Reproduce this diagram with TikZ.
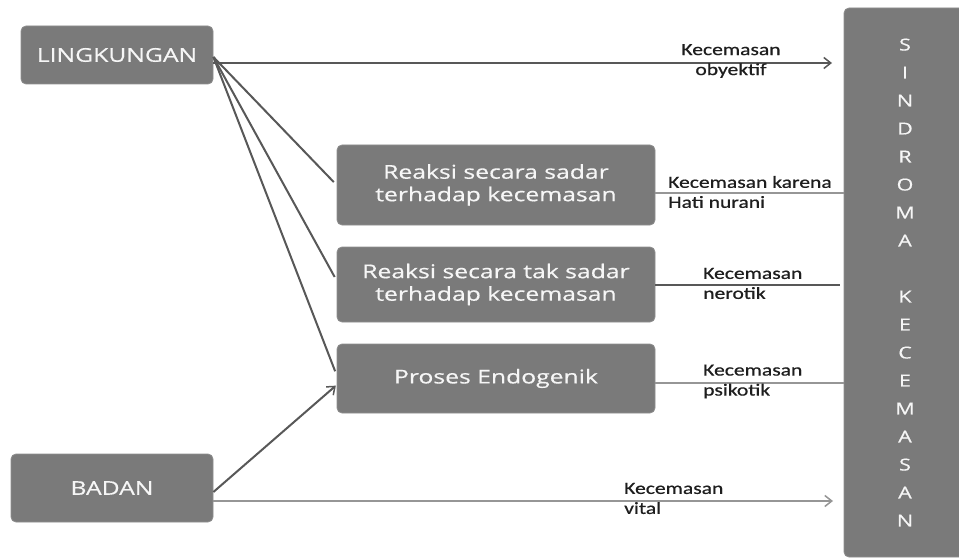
\documentclass[tikz,border=0pt]{standalone}
\usepackage{fontspec}
\usetikzlibrary{arrows.meta}
\newfontfamily\boxfont[FakeStretch=1.3,FakeBold=0.5]{Open Sans}
\newfontfamily\labfont[FakeStretch=1.27,FakeBold=0.6]{Carlito}
\definecolor{boxgray}{RGB}{122,122,122}
\definecolor{boxtext}{RGB}{246,246,246}
\definecolor{linedark}{RGB}{88,88,88}
\definecolor{linelite}{RGB}{150,150,150}
\definecolor{labtext}{RGB}{30,30,30}
\tikzset{
  gbox/.style={fill=boxgray, draw=boxgray!85!white, line width=0.8pt, rounded corners=5pt,
    text=boxtext, align=center, inner sep=0pt,
    font=\boxfont\fontsize{19}{22.5}\selectfont},
  lab/.style={text=labtext, inner sep=0pt, font=\labfont\fontsize{17}{20}\selectfont},
  dark/.style={draw=linedark, line width=2pt},
  lite/.style={draw=linelite, line width=1.5pt},
  tip/.style={-{Straight Barb[length=7pt,width=11pt,line width=1.5pt]}}
}
\begin{document}
\begin{tikzpicture}[x=1pt,y=-1pt]
\useasboundingbox (0,0) rectangle (959,559);
\clip (0,0) rectangle (959,559);
\fill[white] (0,0) rectangle (959,559);

\node[gbox, minimum width=192pt, minimum height=58pt] (ling) at (117,55) {LINGKUNGAN};
\node[gbox, minimum width=202pt, minimum height=68pt] (badan) at (112,488) {BADAN};
\node[gbox, minimum width=318pt, minimum height=80pt] (b1) at (496,185) {Reaksi secara sadar\\terhadap kecemasan};
\node[gbox, minimum width=318pt, minimum height=75pt] (b2) at (496,284.5) {Reaksi secara tak sadar\\terhadap kecemasan};
\node[gbox, minimum width=318pt, minimum height=69pt] (b3) at (496,378.5) {Proses Endogenik};
\node[gbox, minimum width=122pt, minimum height=549pt,
  font=\boxfont\fontsize{16.5}{28}\selectfont] (sind) at (905,282.5)
  {S\\I\\N\\D\\R\\O\\M\\A\\[28pt]K\\E\\C\\E\\M\\A\\S\\A\\N};

% connectors from LINGKUNGAN
\coordinate (lfan) at ([yshift=-2pt]ling.east);
\coordinate (objend) at (832,63);
\draw[dark, tip] ([yshift=-8pt]ling.east) -- (objend);
\draw[dark, shorten >=4pt] (lfan) -- (b1.west);
\draw[dark, shorten >=4pt] (lfan) -- ([yshift=4pt]b2.west);
\draw[dark, shorten >=4pt] (lfan) -- ([yshift=3.5pt]b3.west);

% connectors from BADAN
\coordinate (vitend) at (833,501);
\draw[dark, tip, shorten >=1pt] ([yshift=-4pt]badan.east) -- ([yshift=-6.5pt]b3.west);
\draw[lite, tip] ([yshift=-13pt]badan.east) -- (vitend);

% connectors to SINDROMA
\draw[lite] ([yshift=-8pt]b1.east) -- ([yshift=-8pt]b1.east -| sind.west);
\draw[dark, shorten >=4pt] (b2.east) -- (b2.east -| sind.west);
\draw[lite] ([yshift=-4.5pt]b3.east) -- ([yshift=-4.5pt]b3.east -| sind.west);

% labels
\node[lab, align=center] (lobj) at (731,61) {Kecemasan\\obyektif};
\node[lab, align=left, anchor=west] (lkar) at (668,192) {Kecemasan karena\\Hati nurani};
\node[lab, align=left, anchor=west] (lner) at (703,283.5) {Kecemasan\\nerotik};
\node[lab, align=left, anchor=west] (lpsi) at (703,381.5) {Kecemasan\\psikotik};
\node[lab, align=left, anchor=west] (lvit) at (624,498.5) {Kecemasan\\vital};
\end{tikzpicture}
\end{document}
